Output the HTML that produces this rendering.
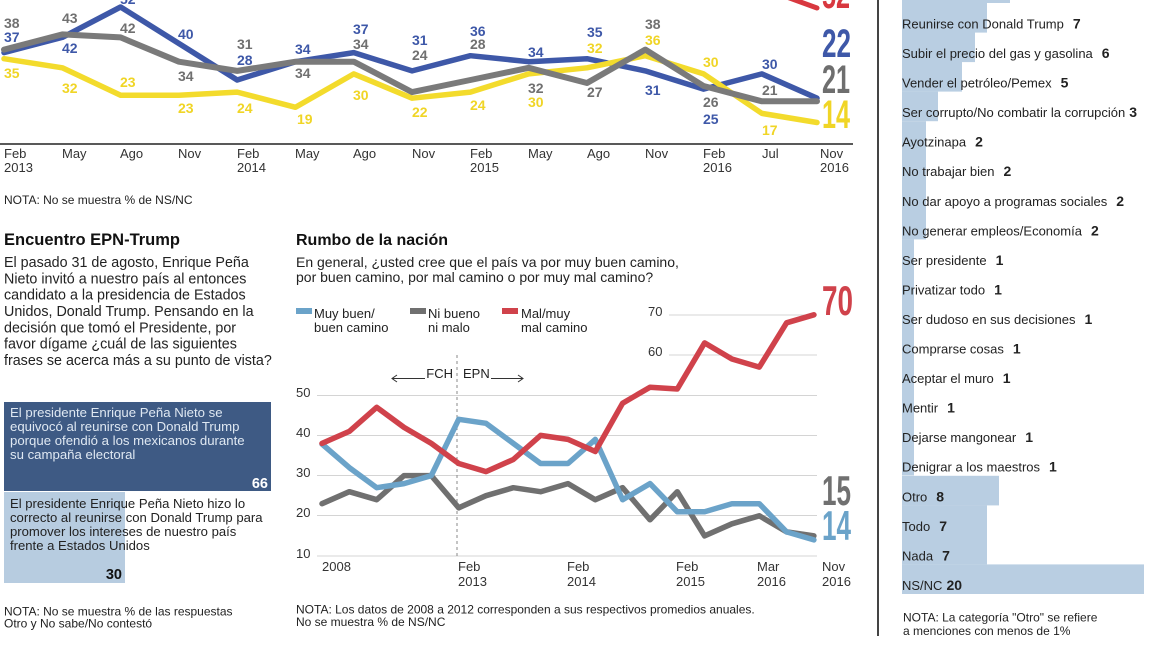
<!DOCTYPE html>
<html><head><meta charset="utf-8"><style>
html,body{margin:0;padding:0;background:#fff;}
svg{display:block;font-family:"Liberation Sans",Arial,sans-serif;}
</style></head><body>
<svg width="1152" height="648" viewBox="0 0 1152 648" xmlns="http://www.w3.org/2000/svg">
<rect width="1152" height="648" fill="#fff"/>

<!-- ===== TOP CHART ===== -->
<g fill="none" stroke-linejoin="round" stroke-linecap="round">
<polyline stroke="#d8383f" stroke-width="5" points="762,-12 817,8"/>
<polyline stroke="#3e58a8" stroke-width="5.5" points="4,52.6 62.3,37.4 120.6,7 178.9,43.5 237.2,80 295.5,61.7 353.8,52.6 412.1,70.9 470.4,55.7 528.7,61.7 587,58.7 645.3,70.9 703.6,89.1 761.9,73.9 817,98.2"/>
<polyline stroke="#f3db2c" stroke-width="5.5" points="4,58.7 62.3,67.8 120.6,95.2 178.9,95.2 237.2,92.1 295.5,107.3 353.8,73.9 412.1,98.2 470.4,92.1 528.7,73.9 587,67.8 645.3,55.7 703.6,73.9 761.9,113.4 817,122.5"/>
<polyline stroke="#7a7a7a" stroke-width="6" points="4,49.6 62.3,34.4 120.6,37.4 178.9,61.7 237.2,70.9 295.5,61.7 353.8,61.7 412.1,92.1 470.4,80 528.7,67.8 587,83 645.3,49.6 703.6,86 761.9,101.3 817,101.3"/>
</g>
<line x1="0" y1="144" x2="853" y2="144" stroke="#222" stroke-width="1.5"/>

<g font-size="14" font-weight="bold">
<g fill="#707070">
<text x="4" y="28">38</text><text x="62" y="23">43</text><text x="120" y="33">42</text><text x="178" y="81">34</text>
<text x="237" y="49">31</text><text x="295" y="78">34</text><text x="353" y="49">34</text><text x="412" y="60">24</text>
<text x="470" y="49">28</text><text x="528" y="93">32</text><text x="587" y="97">27</text><text x="645" y="29">38</text>
<text x="703" y="107">26</text><text x="762" y="95">21</text>
</g>
<g fill="#3e58a8">
<text x="4" y="42">37</text><text x="62" y="53">42</text><text x="120" y="4">52</text><text x="178" y="39">40</text>
<text x="237" y="65">28</text><text x="295" y="54">34</text><text x="353" y="34">37</text><text x="412" y="45">31</text>
<text x="470" y="36">36</text><text x="528" y="57">34</text><text x="587" y="37">35</text><text x="645" y="95">31</text>
<text x="703" y="124">25</text><text x="762" y="69">30</text>
</g>
<g fill="#f0d526">
<text x="4" y="78">35</text><text x="62" y="93">32</text><text x="120" y="87">23</text><text x="178" y="113">23</text>
<text x="237" y="113">24</text><text x="297" y="124">19</text><text x="353" y="100">30</text><text x="412" y="117">22</text>
<text x="470" y="110">24</text><text x="528" y="107">30</text><text x="587" y="53">32</text><text x="645" y="45">36</text>
<text x="703" y="67">30</text><text x="762" y="135">17</text>
</g>
</g>
<g font-size="40" font-weight="bold">
<text x="822" y="8" fill="#d8383f" textLength="28" lengthAdjust="spacingAndGlyphs">52</text>
<text x="822" y="57" fill="#3e58a8" textLength="29" lengthAdjust="spacingAndGlyphs">22</text>
<text x="822" y="93" fill="#6e6e6e" textLength="28" lengthAdjust="spacingAndGlyphs">21</text>
<text x="822" y="128" fill="#f0d526" textLength="28" lengthAdjust="spacingAndGlyphs">14</text>
</g>

<g font-size="13" fill="#333">
<text x="4" y="158">Feb</text><text x="4" y="172">2013</text>
<text x="62" y="158">May</text><text x="120" y="158">Ago</text><text x="178" y="158">Nov</text>
<text x="237" y="158">Feb</text><text x="237" y="172">2014</text>
<text x="295" y="158">May</text><text x="353" y="158">Ago</text><text x="412" y="158">Nov</text>
<text x="470" y="158">Feb</text><text x="470" y="172">2015</text>
<text x="528" y="158">May</text><text x="587" y="158">Ago</text><text x="645" y="158">Nov</text>
<text x="703" y="158">Feb</text><text x="703" y="172">2016</text>
<text x="762" y="158">Jul</text>
<text x="820" y="158">Nov</text><text x="820" y="172">2016</text>
</g>
<text x="4" y="204" font-size="12" fill="#222">NOTA: No se muestra % de NS/NC</text>

<!-- ===== LEFT: Encuentro ===== -->
<text x="4" y="245" font-size="16.5" font-weight="bold" fill="#111">Encuentro EPN-Trump</text>
<g font-size="14.3" fill="#222">
<text x="4" y="267">El pasado 31 de agosto, Enrique Peña</text>
<text x="4" y="283.3">Nieto invitó a nuestro país al entonces</text>
<text x="4" y="299.7">candidato a la presidencia de Estados</text>
<text x="4" y="316">Unidos, Donald Trump. Pensando en la</text>
<text x="4" y="332.3">decisión que tomó el Presidente, por</text>
<text x="4" y="348.7">favor dígame ¿cuál de las siguientes</text>
<text x="4" y="365">frases se acerca más a su punto de vista?</text>
</g>
<rect x="4" y="402" width="267" height="89" fill="#3e5a84"/>
<g font-size="13.2" fill="#dfe8f2">
<text x="10" y="417">El presidente Enrique Peña Nieto se</text>
<text x="10" y="431">equivocó al reunirse con Donald Trump</text>
<text x="10" y="445">porque ofendió a los mexicanos durante</text>
<text x="10" y="459">su campaña electoral</text>
</g>
<text x="268" y="488" font-size="14.5" font-weight="bold" fill="#fff" text-anchor="end">66</text>
<rect x="4" y="492" width="121" height="91" fill="#b7cce0"/>
<g font-size="13.1" fill="#222">
<text x="10" y="508">El presidente Enrique Peña Nieto hizo lo</text>
<text x="10" y="522">correcto al reunirse con Donald Trump para</text>
<text x="10" y="536">promover los intereses de nuestro país</text>
<text x="10" y="550">frente a Estados Unidos</text>
</g>
<text x="122" y="579" font-size="14.5" font-weight="bold" fill="#111" text-anchor="end">30</text>
<g font-size="12" fill="#222">
<text x="4" y="615.5">NOTA: No se muestra % de las respuestas</text>
<text x="4" y="627.5">Otro y No sabe/No contestó</text>
</g>

<!-- ===== RUMBO ===== -->
<text x="296" y="245" font-size="16" font-weight="bold" fill="#111">Rumbo de la nación</text>
<g font-size="14" fill="#222">
<text x="296" y="267">En general, ¿usted cree que el país va por muy buen camino,</text>
<text x="296" y="282">por buen camino, por mal camino o por muy mal camino?</text>
</g>
<g font-size="13" fill="#222">
<rect x="296" y="308" width="16" height="6" fill="#6ba3c9"/>
<text x="314" y="318">Muy buen/</text><text x="314" y="332">buen camino</text>
<rect x="410" y="308" width="16" height="6" fill="#707070"/>
<text x="428" y="318">Ni bueno</text><text x="428" y="332">ni malo</text>
<rect x="502" y="308" width="16" height="6" fill="#d0424b"/>
<text x="521" y="318">Mal/muy</text><text x="521" y="332">mal camino</text>
</g>
<!-- grid -->
<g stroke="#d4d4d4" stroke-width="1">
<line x1="669" y1="315" x2="817" y2="315"/>
<line x1="669" y1="355" x2="817" y2="355"/>
<line x1="317" y1="395.5" x2="817" y2="395.5"/>
<line x1="317" y1="435.5" x2="817" y2="435.5"/>
<line x1="317" y1="475.5" x2="817" y2="475.5"/>
<line x1="317" y1="515.5" x2="817" y2="515.5"/>
<line x1="317" y1="556" x2="817" y2="556"/>
</g>
<g font-size="13" fill="#333">
<text x="648" y="316">70</text><text x="648" y="356">60</text>
<text x="296" y="397">50</text><text x="296" y="437">40</text><text x="296" y="477">30</text>
<text x="296" y="517">20</text><text x="296" y="558">10</text>
</g>
<line x1="457" y1="355" x2="457" y2="556" stroke="#888" stroke-width="1" stroke-dasharray="3,3"/>
<g font-size="13" fill="#222">
<text x="453" y="378" text-anchor="end">FCH</text>
<text x="463" y="378">EPN</text>
</g>
<g stroke="#333" stroke-width="1" fill="none">
<line x1="392" y1="378.5" x2="425" y2="378.5"/>
<polyline points="397,375 392,378.5 397,382"/>
<line x1="491" y1="378.5" x2="523" y2="378.5"/>
<polyline points="518,375 523,378.5 518,382"/>
</g>
<g fill="none" stroke-linejoin="round" stroke-linecap="round" stroke-width="5.5">
<polyline stroke="#707070" points="322,503.7 349.3,491.7 376.7,499.7 404,475.6 431.3,475.6 458.7,507.8 486,495.7 513.3,487.7 540.6,491.7 568,483.6 595.3,499.7 622.6,487.7 650,519.8 677.3,491.7 704.6,535.9 731.9,523.8 759.3,515.8 786.6,531.9 813.9,535.9"/>
<polyline stroke="#6ba3c9" points="322,444 349.3,467.6 376.7,487.7 404,483.6 431.3,475.6 458.7,419.3 486,423.3 513.3,443.4 540.6,463.5 568,463.5 595.3,439.4 622.6,499.7 650,483.6 677.3,511.8 704.6,511.8 731.9,503.7 759.3,503.7 786.6,531.9 813.9,539.9"/>
<polyline stroke="#d0424b" points="322,443.4 349.3,431.4 376.7,407.3 404,427.4 431.3,443.4 458.7,463.5 486,471.6 513.3,459.5 540.6,435.4 568,439.4 595.3,451.5 622.6,403.2 650,387.2 677.3,389 704.6,342.9 731.9,359 759.3,367.1 786.6,322.8 813.9,314.8"/>
</g>
<g font-size="42" font-weight="bold">
<text x="822" y="315" fill="#d0424b" textLength="31" lengthAdjust="spacingAndGlyphs">70</text>
<text x="822" y="505" fill="#707070" textLength="29" lengthAdjust="spacingAndGlyphs">15</text>
<text x="822" y="540" fill="#6ba3c9" textLength="29" lengthAdjust="spacingAndGlyphs">14</text>
</g>
<g font-size="13" fill="#333">
<text x="322" y="571">2008</text>
<text x="458" y="571">Feb</text><text x="458" y="586">2013</text>
<text x="567" y="571">Feb</text><text x="567" y="586">2014</text>
<text x="676" y="571">Feb</text><text x="676" y="586">2015</text>
<text x="757" y="571">Mar</text><text x="757" y="586">2016</text>
<text x="822" y="571">Nov</text><text x="822" y="586">2016</text>
</g>
<g font-size="12" fill="#222">
<text x="296" y="613.5">NOTA: Los datos de 2008 a 2012 corresponden a sus respectivos promedios anuales.</text>
<text x="296" y="626">No se muestra % de NS/NC</text>
</g>

<!-- ===== RIGHT PANEL ===== -->
<line x1="878" y1="0" x2="878" y2="636" stroke="#444" stroke-width="2"/>
<g fill="#b9cee2">
<rect x="902" y="0" width="108" height="3"/>
<rect x="902" y="3" width="85" height="29.6"/>
<rect x="902" y="32.5" width="73" height="29.6"/>
<rect x="902" y="62" width="60" height="29.6"/>
<rect x="902" y="91.6" width="36" height="29.6"/>
<rect x="902" y="121.2" width="24" height="118.2"/>
<rect x="902" y="239.4" width="12" height="236"/>
<rect x="902" y="475.8" width="97" height="29.6"/>
<rect x="902" y="505.3" width="85" height="59.1"/>
<rect x="902" y="564.4" width="242" height="29.6"/>
</g>
<g font-size="13" fill="#222">
<text x="902" y="28.5">Reunirse con Donald Trump<tspan font-weight="bold" font-size="14" dx="9">7</tspan></text>
<text x="902" y="58">Subir el precio del gas y gasolina<tspan font-weight="bold" font-size="14" dx="9">6</tspan></text>
<text x="902" y="87.6">Vender el petróleo/Pemex<tspan font-weight="bold" font-size="14" dx="9">5</tspan></text>
<text x="902" y="117.1">Ser corrupto/No combatir la corrupción<tspan font-weight="bold" font-size="14" dx="4">3</tspan></text>
<text x="902" y="146.7">Ayotzinapa<tspan font-weight="bold" font-size="14" dx="9">2</tspan></text>
<text x="902" y="176.2">No trabajar bien<tspan font-weight="bold" font-size="14" dx="9">2</tspan></text>
<text x="902" y="205.8">No dar apoyo a programas sociales<tspan font-weight="bold" font-size="14" dx="9">2</tspan></text>
<text x="902" y="235.3">No generar empleos/Economía<tspan font-weight="bold" font-size="14" dx="9">2</tspan></text>
<text x="902" y="264.9">Ser presidente<tspan font-weight="bold" font-size="14" dx="9">1</tspan></text>
<text x="902" y="294.4">Privatizar todo<tspan font-weight="bold" font-size="14" dx="9">1</tspan></text>
<text x="902" y="324">Ser dudoso en sus decisiones<tspan font-weight="bold" font-size="14" dx="9">1</tspan></text>
<text x="902" y="353.5">Comprarse cosas<tspan font-weight="bold" font-size="14" dx="9">1</tspan></text>
<text x="902" y="383.1">Aceptar el muro<tspan font-weight="bold" font-size="14" dx="9">1</tspan></text>
<text x="902" y="412.6">Mentir<tspan font-weight="bold" font-size="14" dx="9">1</tspan></text>
<text x="902" y="442.2">Dejarse mangonear<tspan font-weight="bold" font-size="14" dx="9">1</tspan></text>
<text x="902" y="471.7">Denigrar a los maestros<tspan font-weight="bold" font-size="14" dx="9">1</tspan></text>
<text x="902" y="501.3">Otro<tspan font-weight="bold" font-size="14" dx="9">8</tspan></text>
<text x="902" y="530.8">Todo<tspan font-weight="bold" font-size="14" dx="9">7</tspan></text>
<text x="902" y="560.4">Nada<tspan font-weight="bold" font-size="14" dx="9">7</tspan></text>
<text x="902" y="589.9">NS/NC<tspan font-weight="bold" font-size="14" dx="4">20</tspan></text>
</g>
<g font-size="12" fill="#222">
<text x="903" y="621.5">NOTA: La categoría "Otro" se refiere</text>
<text x="903" y="635">a menciones con menos de 1%</text>
</g>
</svg>
</body></html>
